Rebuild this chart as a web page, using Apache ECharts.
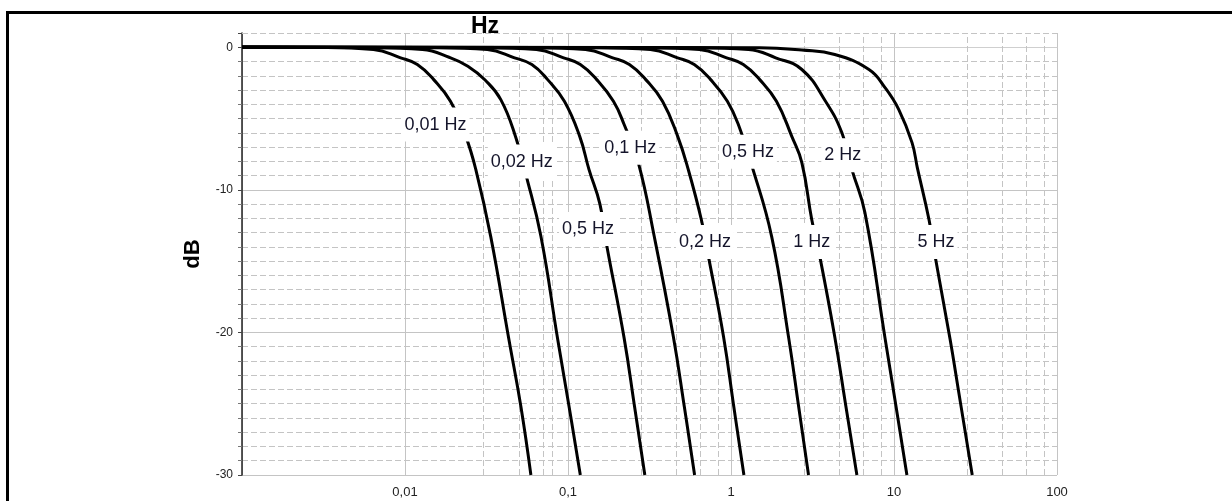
<!DOCTYPE html>
<html>
<head>
<meta charset="utf-8">
<style type="text/css">
    body {
        margin: 0;
        padding: 0;
        background: #fff;
    }
    #chart {
        width: 1232px;
        height: 501px;
    }
</style>
<script src="https://cdn.jsdelivr.net/npm/echarts@6/dist/echarts.min.js"></script>
</head>
<body>
<div id="chart"></div>
<script type="text/javascript">
// frequency (Hz) / level (dB) points
var curve001 = [[0.001, 0], [0.003, -0.02], [0.0064, -0.16], [0.0094, -0.74], [0.0119, -1.21], [0.015, -2.27], [0.019, -3.79], [0.0236, -6.25], [0.0272, -8.58], [0.0336, -13.3], [0.0434, -20.5], [0.0514, -25.2], [0.0592, -30]];
var curve002 = [[0.001, 0], [0.006, -0.03], [0.0128, -0.16], [0.0188, -0.72], [0.0243, -1.33], [0.031, -2.3], [0.0387, -3.67], [0.0479, -6.34], [0.0552, -8.93], [0.0682, -13.26], [0.0865, -20.5], [0.1015, -25.2], [0.119, -30]];
var curve005 = [[0.001, 0], [0.015, -0.03], [0.032, -0.16], [0.047, -0.74], [0.06, -1.21], [0.075, -2.27], [0.095, -3.79], [0.118, -6.25], [0.1346, -8.58], [0.157, -11.0], [0.171, -13.6], [0.221, -20.4], [0.256, -25.2], [0.296, -30]];
var curve01 = [[0.001, 0], [0.03, -0.03], [0.064, -0.16], [0.094, -0.74], [0.119, -1.21], [0.15, -2.27], [0.19, -3.79], [0.221, -5.42], [0.27, -8.09], [0.338, -13.26], [0.443, -20.3], [0.517, -25.2], [0.598, -30]];
var curve02 = [[0.001, 0], [0.06, -0.03], [0.128, -0.16], [0.188, -0.74], [0.238, -1.21], [0.3, -2.27], [0.38, -3.79], [0.471, -6.25], [0.547, -8.58], [0.658, -12.1], [0.728, -14.7], [0.9, -20.3], [1.04, -25.2], [1.2, -30]];
var curve05 = [[0.001, 0], [0.15, -0.03], [0.32, -0.16], [0.47, -0.74], [0.595, -1.21], [0.75, -2.27], [0.95, -3.79], [1.128, -5.64], [1.337, -8.23], [1.775, -13.26], [2.26, -20.4], [2.6, -25.2], [2.99, -30]];
var curve1 = [[0.001, 0], [0.3, -0.03], [0.64, -0.16], [0.94, -0.74], [1.19, -1.21], [1.5, -2.27], [1.9, -3.79], [2.36, -6.25], [2.72, -8.09], [3.13, -12.1], [3.51, -14.7], [4.33, -20.3], [5.07, -25.2], [5.92, -30]];
var curve2 = [[0.001, 0], [0.6, -0.03], [1.28, -0.16], [1.88, -0.74], [2.72, -1.56], [3.8, -3.79], [4.79, -6.0], [5.52, -8.58], [6.63, -11.6], [8.81, -20.4], [10.29, -25.2], [12.0, -30]];
var curve5 = [[0.001, 0], [1.5, -0.03], [2.72, -0.2], [4.33, -0.51], [7.02, -1.56], [8.81, -2.83], [10.7, -4.37], [12.9, -6.69], [13.9, -8.44], [16.4, -12.1], [17.9, -14.7], [22.1, -20.5], [24.8, -24.0], [30.2, -30]];

var curves = [curve001, curve002, curve005, curve01, curve02, curve05, curve1, curve2, curve5];

// curve labels as printed, and where they sit (Hz, dB)
var labelTexts = ['0,01 Hz', '0,02 Hz', '0,1 Hz', '0,5 Hz', '2 Hz', '0,5 Hz', '0,2 Hz', '1 Hz', '5 Hz'];
var labelAt = [[0.0154, -5.42], [0.0521, -8.02], [0.241, -7.04], [1.27, -7.32], [4.85, -7.58], [0.1327, -12.74], [0.692, -13.66], [3.13, -13.66], [18.1, -13.66]];

var decades = [0.001, 0.01, 0.1, 1, 10];
var minorSteps = [2.8, 4.6, 6.5, 8.3];

var font = "'Liberation Sans', Arial, Helvetica, sans-serif";

// dashed grid: uneven sub-decade verticals plus the top edge
var minorGrid = [{ yAxis: 1 }];
decades.forEach(function (d) {
    minorSteps.forEach(function (m) {
        minorGrid.push({ xAxis: d * m });
    });
});

var series = curves.map(function (c) {
    return {
        type: 'line',
        data: c,
        smooth: 0.45,
        showSymbol: false,
        symbol: 'none',
        lineStyle: { color: '#000', width: 3 },
        z: 3
    };
});

series.push({
    type: 'line',
    data: [],
    silent: true,
    markLine: {
        silent: true,
        z: 1,
        symbol: 'none',
        label: { show: false },
        lineStyle: { color: '#c4c4c4', width: 1, type: [6, 3] },
        data: minorGrid
    },
    z: 1
});

series.push({
    type: 'scatter',
    data: labelAt.map(function (p, i) { return { value: p, name: labelTexts[i] }; }),
    symbolSize: 1,
    silent: true,
    itemStyle: { color: '#fff', opacity: 1 },
    label: {
        show: true,
        position: 'inside',
        formatter: function (p) { return p.name; },
        fontFamily: font,
        fontSize: 18,
        color: '#14142a',
        opacity: 1,
        backgroundColor: '#ffffff',
        padding: [9, 3, 7, 3]
    },
    emphasis: { disabled: true },
    z: 10,
    zlevel: 1
});

var myChart = echarts.init(document.getElementById('chart'));
myChart.setOption({
    animation: false,
    backgroundColor: '#fff',
    title: {
        text: 'Hz',
        left: 466,
        top: 10,
        textStyle: { fontFamily: font, fontSize: 23, fontWeight: 'bold', color: '#000' }
    },
    graphic: [{
        type: 'rect',
        shape: { x: 7.5, y: 12.5, width: 1300, height: 600 },
        style: { fill: 'none', stroke: '#000', lineWidth: 3 },
        silent: true
    }],
    grid: { left: 242, right: 175, top: 33, bottom: 26 },
    xAxis: {
        type: 'log',
        logBase: 10,
        min: 0.001,
        max: 100,
        axisLine: { show: true, lineStyle: { color: '#cfcfcf', width: 1 } },
        axisTick: { show: false },
        axisLabel: {
            fontFamily: font,
            fontSize: 13,
            color: '#222',
            margin: 11,
            formatter: function (v) {
                if (v < 0.005) return '';
                return String(+v.toPrecision(3)).replace('.', ',');
            }
        },
        splitLine: { show: true, lineStyle: { color: '#c4c4c4', width: 1 } }
    },
    yAxis: {
        type: 'value',
        min: -30,
        max: 1,
        interval: 10,
        name: 'dB',
        nameLocation: 'middle',
        nameRotate: 90,
        nameGap: 38,
        nameTextStyle: { fontFamily: font, fontSize: 22, fontWeight: 'bold', color: '#000' },
        axisLine: { show: true, lineStyle: { color: '#222', width: 1.5 } },
        axisTick: { show: true, length: 4, lineStyle: { color: '#444' } },
        minorTick: { show: true, splitNumber: 10, length: 4, lineStyle: { color: '#777' } },
        axisLabel: {
            fontFamily: font,
            fontSize: 12,
            color: '#222',
            margin: 9,
            formatter: function (v) { return v % 10 === 0 ? String(v) : ''; }
        },
        splitLine: { show: true, showMaxLine: false, lineStyle: { color: '#c4c4c4', width: 1 } },
        minorSplitLine: { show: true, lineStyle: { color: '#c4c4c4', width: 1, type: [6, 3] } }
    },
    series: series
});
</script>
</body>
</html>
